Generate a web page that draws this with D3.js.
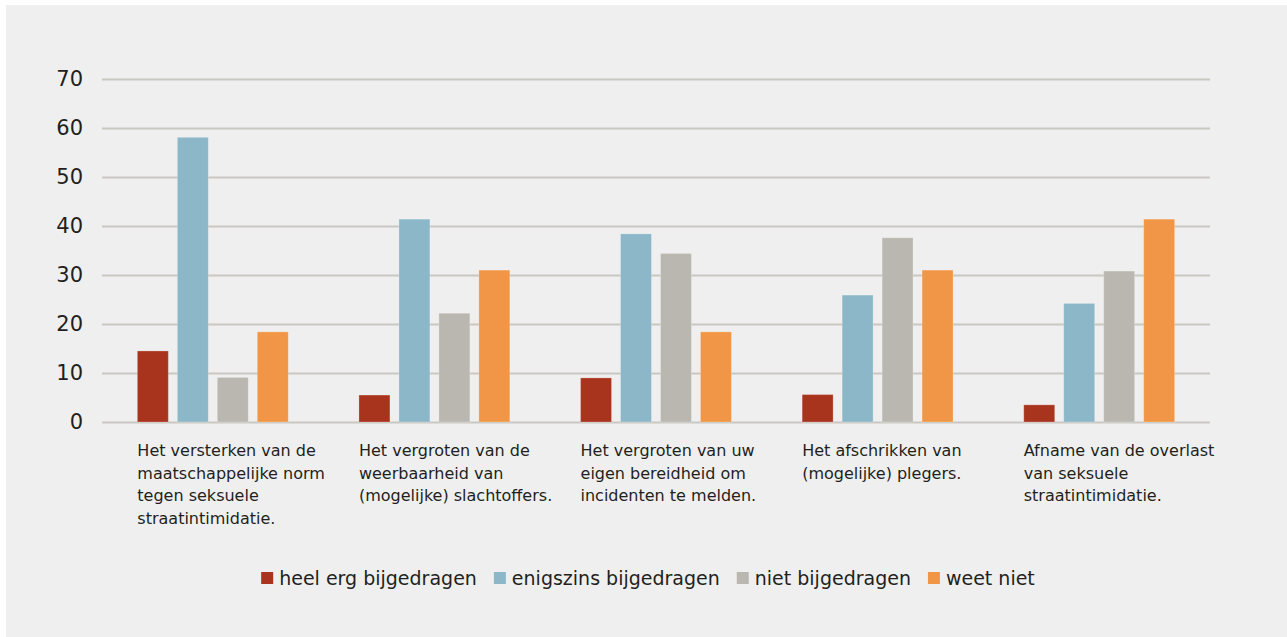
<!DOCTYPE html>
<html>
<head>
<meta charset="utf-8">
<script src="https://cdn.jsdelivr.net/npm/d3@7"></script>
<style>
  html, body { margin: 0; padding: 0; background: #ffffff; }
  svg { display: block; }
  text { font-family: "DejaVu Sans", Lato, sans-serif; fill: #231f20; }
</style>
</head>
<body>
<svg id="chart" width="1287" height="637"></svg>
<script>
// Category labels, one entry per line of the wrapped label
const categories = [
  ["Het versterken van de", "maatschappelijke norm", "tegen seksuele", "straatintimidatie."],
  ["Het vergroten van de", "weerbaarheid van", "(mogelijke) slachtoffers."],
  ["Het vergroten van uw", "eigen bereidheid om", "incidenten te melden."],
  ["Het afschrikken van", "(mogelijke) plegers."],
  ["Afname van de overlast", "van seksuele", "straatintimidatie."]
];
const seriesNames = ["heel erg bijgedragen", "enigszins bijgedragen", "niet bijgedragen", "weet niet"];
const heelErg    = [14.5, 5.5, 9.0, 5.6, 3.5];
const enigszins  = [58.1, 41.4, 38.4, 25.9, 24.2];
const niet       = [9.1, 22.2, 34.4, 37.6, 30.8];
const weetNiet   = [18.4, 31.0, 18.4, 31.0, 41.4];
const yTicks = [0, 10, 20, 30, 40, 50, 60, 70];
const colors = ["#a8341e", "#8bb7c9", "#bab7b0", "#f09646"];

const seriesValues = [heelErg, enigszins, niet, weetNiet];
const catKeys = categories.map((c, i) => i);

const svg = d3.select("#chart");

// panel background
svg.append("rect").attr("x", 6).attr("y", 5).attr("width", 1281).attr("height", 632).attr("fill", "#efefef");

const plotLeft = 102, plotRight = 1210, plotTop = 79, plotBottom = 422;

const y = d3.scaleLinear().domain([0, 70]).range([plotBottom, plotTop]);
const x0 = d3.scaleBand().domain(catKeys).range([plotLeft, plotRight]).paddingInner(0.319).paddingOuter(0.1595);
const x1 = d3.scaleBand().domain(d3.range(seriesNames.length)).range([0, x0.bandwidth()]).paddingInner(0.225).paddingOuter(0);

// gridlines and tick labels
const yAxis = d3.axisLeft(y).tickValues(yTicks).tickSize(-(plotRight - plotLeft)).tickPadding(19).tickFormat(d3.format("d"));
const gAxis = svg.append("g").attr("transform", `translate(${plotLeft},0)`).call(yAxis);
gAxis.select(".domain").remove();
gAxis.selectAll(".tick line").attr("stroke", "#c9c7c1").attr("stroke-width", 1.8);
gAxis.selectAll(".tick text").attr("font-size", 21).attr("fill", "#231f20")
  .attr("font-family", "'DejaVu Sans', Lato, sans-serif");

// bars
const groups = svg.append("g").selectAll("g").data(catKeys).join("g")
  .attr("transform", d => `translate(${x0(d)},0)`);
groups.selectAll("rect")
  .data(ci => seriesValues.map((vals, si) => ({ si, v: vals[ci] })))
  .join("rect")
  .attr("x", d => x1(d.si))
  .attr("width", x1.bandwidth())
  .attr("y", d => y(d.v))
  .attr("height", d => y(0) - y(d.v))
  .attr("fill", d => colors[d.si])
  .attr("stroke", "rgba(255,255,255,0.25)")
  .attr("stroke-width", 1);

// category labels
const labels = svg.append("g").selectAll("text").data(catKeys).join("text")
  .attr("x", d => x0(d))
  .attr("y", 456)
  .attr("font-size", 16);
labels.selectAll("tspan").data(d => categories[d]).join("tspan")
  .attr("x", function () { return d3.select(this.parentNode).attr("x"); })
  .attr("dy", (d, i) => i === 0 ? 0 : 22.7)
  .text(d => d);

// legend
const legend = svg.append("g");
const items = legend.selectAll("g").data(seriesNames).join("g");
items.append("rect").attr("width", 12).attr("height", 12).attr("y", -6).attr("fill", (d, i) => colors[i]);
items.append("text").attr("x", 18).attr("y", 7).attr("font-size", 19).text(d => d);
let pos = 0;
items.each(function () {
  const w = 18 + d3.select(this).select("text").node().getComputedTextLength();
  d3.select(this).attr("data-x", pos);
  pos += w + 17;
});
const totalW = pos - 17;
const startX = 648 - totalW / 2;
items.attr("transform", function () { return `translate(${startX + +d3.select(this).attr("data-x")},578)`; });
</script>
</body>
</html>
